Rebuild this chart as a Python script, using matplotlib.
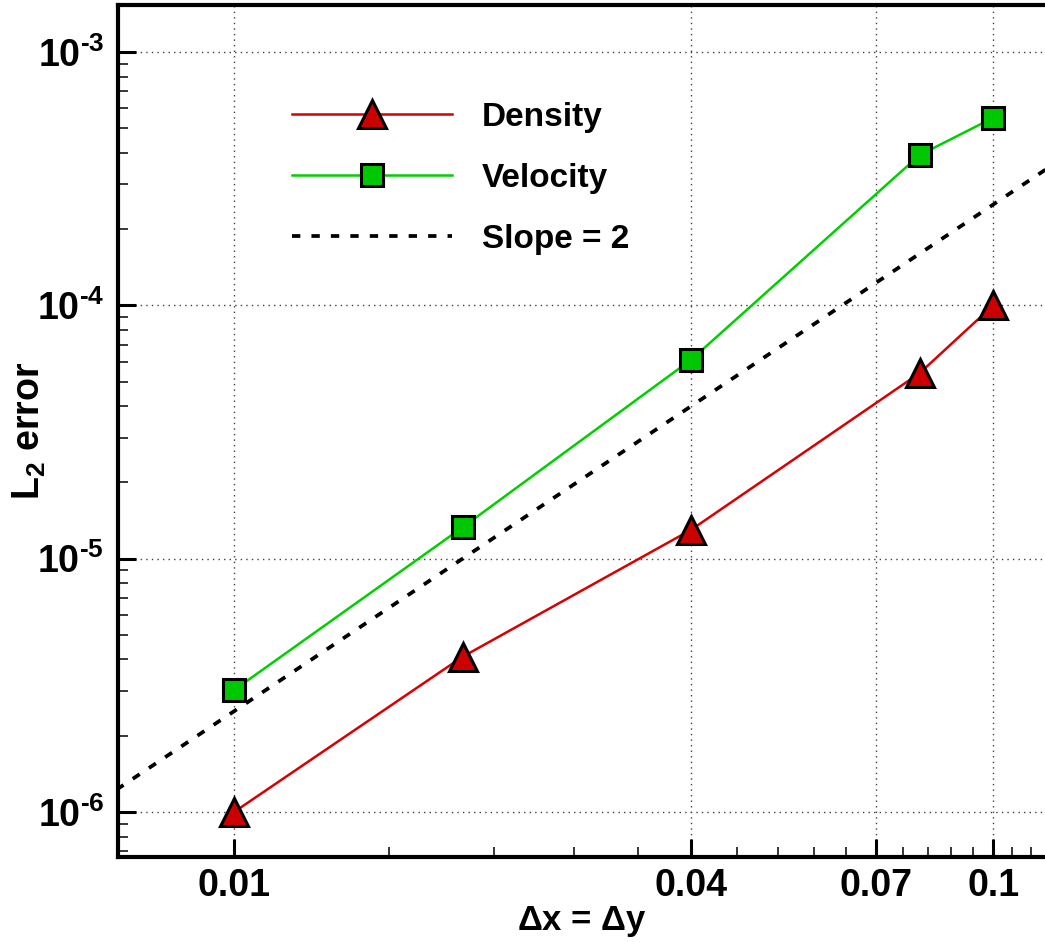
import matplotlib
matplotlib.use("Agg")
import matplotlib.pyplot as plt
from matplotlib.ticker import FixedLocator, NullFormatter

# grid spacing and L2 errors
dx = [0.01, 0.02, 0.04, 0.08, 0.1]
err_density = [1.0e-6, 4.1e-6, 1.3e-5, 5.4e-5, 1.0e-4]
err_velocity = [3.03e-6, 1.33e-5, 6.1e-5, 3.92e-4, 5.5e-4]
# second-order reference line (end points)
slope_x = [0.007, 0.12]
slope_y = [1.225e-6, 3.6e-4]

x_major = [0.01, 0.04, 0.07, 0.1]
x_major_labels = ["0.01", "0.04", "0.07", "0.1"]
x_minor = [0.016, 0.022, 0.028, 0.034, 0.046, 0.052, 0.058, 0.064,
           0.076, 0.082, 0.088, 0.094, 0.106, 0.112]
y_major = [1e-6, 1e-5, 1e-4, 1e-3]
y_major_labels = [r"10$^{\text{-6}}$", r"10$^{\text{-5}}$",
                  r"10$^{\text{-4}}$", r"10$^{\text{-3}}$"]
y_minor = [m * 10.0 ** e for e in (-7, -6, -5, -4, -3) for m in range(2, 10)]

plt.rcParams["font.family"] = ["Liberation Sans", "DejaVu Sans"]
plt.rcParams["font.weight"] = "bold"
plt.rcParams["mathtext.fontset"] = "custom"
plt.rcParams["mathtext.rm"] = "Liberation Sans:bold"
plt.rcParams["mathtext.it"] = "Liberation Sans:bold"
plt.rcParams["mathtext.bf"] = "Liberation Sans:bold"
plt.rcParams["mathtext.sf"] = "Liberation Sans"
plt.rcParams["mathtext.default"] = "rm"
plt.rcParams["lines.scale_dashes"] = False

RED_LINE, RED_FILL = "#d80000", "#cc0000"
GREEN_LINE, GREEN_FILL = "#00d000", "#00c800"

fig = plt.figure(figsize=(10.45, 9.42), dpi=100)
ax = fig.add_axes([118 / 1045, 1 - 857 / 942, 1 - 118 / 1045, (857 - 5) / 942])
ax.set_xscale("log")
ax.set_yscale("log")

ax.plot(dx, err_density, color=RED_LINE, lw=1.8, marker="^", ms=20,
        mfc=RED_FILL, mec="black", mew=2.2, label="Density", zorder=4)
ax.plot(dx, err_velocity, color=GREEN_LINE, lw=1.8, marker="s", ms=16,
        mfc=GREEN_FILL, mec="black", mew=2.2, label="Velocity", zorder=4)
ax.plot(slope_x, slope_y, color="black", lw=2.7, dashes=(6, 8),
        label="Slope = 2", zorder=3)

ax.set_xlim(0.00703, 0.117)
ax.set_ylim(6.64e-7, 1.533e-3)

ax.xaxis.set_major_locator(FixedLocator(x_major))
ax.xaxis.set_minor_locator(FixedLocator(x_minor))
ax.set_xticklabels(x_major_labels)
ax.xaxis.set_minor_formatter(NullFormatter())
ax.yaxis.set_major_locator(FixedLocator(y_major))
ax.yaxis.set_minor_locator(FixedLocator(y_minor))
ax.set_yticklabels(y_major_labels)
ax.yaxis.set_minor_formatter(NullFormatter())

ax.tick_params(which="major", direction="in", length=13, width=2.2,
               labelsize=27, pad=10)
ax.tick_params(which="minor", direction="in", length=7, width=1.1)
ax.tick_params(axis="x", which="major", pad=8)
ax.tick_params(top=False, right=False, which="both")

ax.grid(True, which="major", ls=(0, (1, 3)), color="0.25", lw=1.0)

for side in ("left", "bottom", "top"):
    ax.spines[side].set_linewidth(3)
ax.spines["right"].set_visible(False)

ax.set_xlabel(r"$\mathsf{\Delta}$x = $\mathsf{\Delta}$y", fontsize=25,
              fontweight="bold")
ax.xaxis.set_label_coords(0.5, -0.055)
ax.set_ylabel(r"L$_2$ error", fontsize=27, fontweight="bold")
ax.yaxis.set_label_coords(-0.075, 0.5)

ax.legend(loc="upper left", bbox_to_anchor=(0.1734, 0.902), frameon=False,
          fontsize=24, handlelength=4.8, handletextpad=0.9, labelspacing=0.9,
          numpoints=1, borderaxespad=0)

fig.savefig("out.png", dpi=100)
